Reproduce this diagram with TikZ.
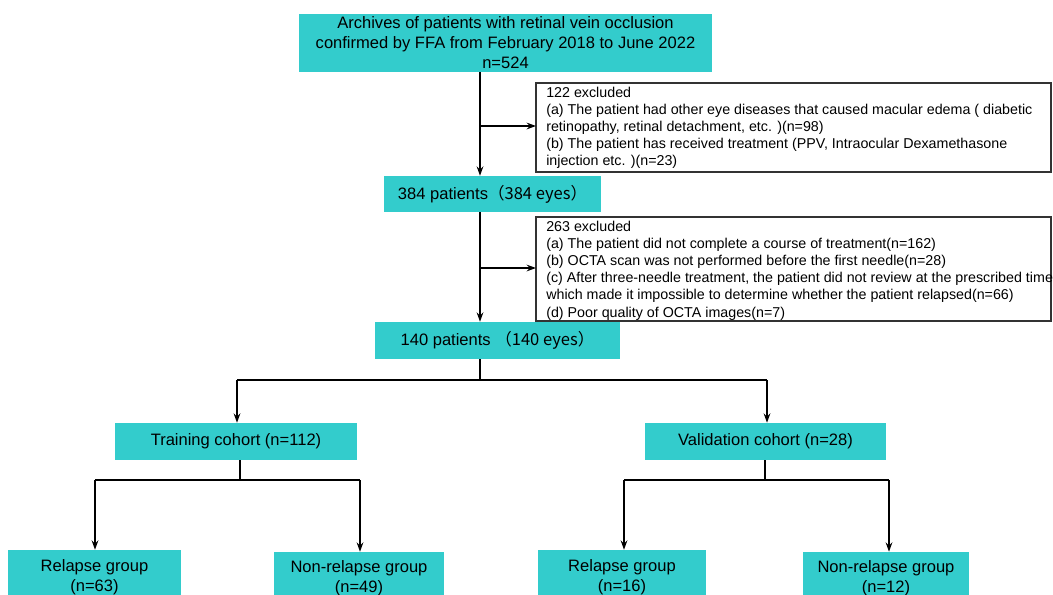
\documentclass[tikz,border=0pt]{standalone}
\usepackage{fontspec}
\setmainfont{Liberation Sans}
\newfontfamily\cjk{Noto Sans CJK SC}
\usetikzlibrary{arrows.meta,calc}
\definecolor{boxcyan}{HTML}{33CCCC}
\begin{document}
\begin{tikzpicture}[x=0.75pt,y=-0.75pt,
  cbox/.style={fill=boxcyan,draw=none,align=center,inner sep=0pt,font=\fontsize{12.4}{15}\selectfont},
  xbox/.style={draw=none,align=left,inner sep=0pt,anchor=north west,font=\fontsize{10.7}{12.9}\selectfont},
  xframe/.style={draw=black!80,line width=0.8pt,fill=white},
  conn/.style={line width=1.5pt,draw=black},
  arr/.style={conn,-{Stealth[length=7pt,width=5pt]}}]
\useasboundingbox (0,0) rectangle (1053,594);
\node[cbox,minimum width=413*0.75pt,minimum height=58*0.75pt] (top) at (505.5,43) {Archives of patients with retinal vein occlusion\\confirmed by FFA from February 2018 to June 2022\\n=524};
\node[cbox,minimum width=217*0.75pt,minimum height=36*0.75pt] (p384) at (492.5,194) {384 patients\cjk{（}384 eyes\cjk{）}};
\node[cbox,minimum width=245*0.75pt,minimum height=37*0.75pt] (p140) at (497.5,340.5) {140 patients \cjk{（}140 eyes\cjk{）}};
\draw[xframe] (536,83) rectangle (1051,172);
\node[xbox] (ex1) at (546,86.5) {122 excluded\\(a) The patient had other eye diseases that caused macular edema ( diabetic\\retinopathy, retinal detachment, etc. )(n=98)\\(b) The patient has received treatment (PPV, Intraocular Dexamethasone\\injection etc. )(n=23)};
\draw[xframe] (536,217) rectangle (1051,321);
\node[xbox] (ex2) at (546,220.5) {263 excluded\\(a) The patient did not complete a course of treatment(n=162)\\(b) OCTA scan was not performed before the first needle(n=28)\\(c) After three-needle treatment, the patient did not review at the prescribed time\\which made it impossible to determine whether the patient relapsed(n=66)\\(d) Poor quality of OCTA images(n=7)};
\node[cbox,minimum width=242*0.75pt,minimum height=37*0.75pt] (train) at (236,441.5) {Training cohort (n=112)};
\node[cbox,minimum width=241*0.75pt,minimum height=37*0.75pt] (valid) at (765.5,441.5) {Validation cohort (n=28)};
\node[cbox,minimum width=173*0.75pt,minimum height=54*0.75pt] (rl) at (94.5,577) {Relapse group\\(n=63)};
\node[cbox,minimum width=170*0.75pt,minimum height=52*0.75pt] (nrl) at (359,578) {Non-relapse group\\(n=49)};
\node[cbox,minimum width=168*0.75pt,minimum height=54*0.75pt] (rr) at (622,577) {Relapse group\\(n=16)};
\node[cbox,minimum width=166*0.75pt,minimum height=52*0.75pt] (nrr) at (886,578) {Non-relapse group\\(n=12)};
\coordinate (m) at (480,0);
\coordinate (e1) at (536,126);
\coordinate (e2) at (536,268);
% main spine
\draw[arr] (top.south -| m) -- (p384.north -| m);
\draw[arr] (e1 -| m) -- (e1);
\draw[arr] (p384.south -| m) -- (p140.north -| m);
\draw[arr] (e2 -| m) -- (e2);
% split 1
\coordinate (s1) at (480,380);
\draw[conn] (p140.south -| s1) -- (s1);
\draw[conn] (237,380) -- (767,380);
\draw[arr] (237,380) -- (train.north -| 237,0);
\draw[arr] (767,380) -- (valid.north -| 767,0);
% split training
\draw[conn] (train.south -| 240,0) -- (240,480);
\draw[conn] (95,480) -- (360,480);
\draw[arr] (95,480) -- (rl.north -| 95,0);
\draw[arr] (360,480) -- (nrl.north -| 360,0);
% split validation
\draw[conn] (valid.south -| 765,0) -- (765,480);
\draw[conn] (624,480) -- (889,480);
\draw[arr] (624,480) -- (rr.north -| 624,0);
\draw[arr] (889,480) -- (nrr.north -| 889,0);
\end{tikzpicture}
\end{document}
